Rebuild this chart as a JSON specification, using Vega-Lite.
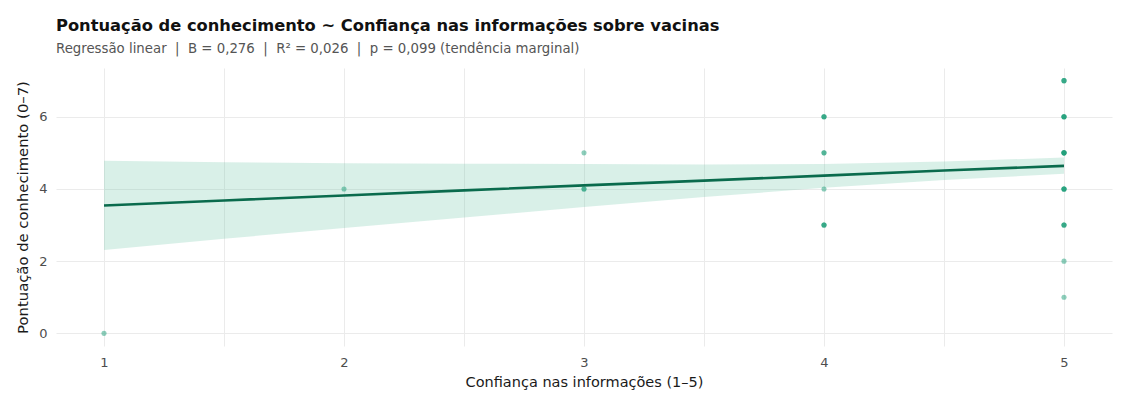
{
  "$schema": "https://vega.github.io/schema/vega-lite/v6.json",
  "autosize": "none",
  "width": 1056,
  "height": 278,
  "padding": {"left": 56, "top": 68, "right": 12, "bottom": 55},
  "background": "white",
  "config": {
    "font": "DejaVu Sans",
    "view": {"stroke": null},
    "axis": {
      "domain": false,
      "ticks": false,
      "gridColor": "#ebebeb",
      "gridWidth": 1,
      "labelColor": "#4d4d4d",
      "labelFontSize": 13,
      "titleColor": "#1a1a1a",
      "titleFontSize": 14.5,
      "titleFontWeight": "normal"
    }
  },
  "title": {
    "text": "Pontuação de conhecimento ~ Confiança nas informações sobre vacinas",
    "subtitle": "Regressão linear \u00a0|\u00a0 B = 0,276 \u00a0|\u00a0 R² = 0,026 \u00a0|\u00a0 p = 0,099 (tendência marginal)",
    "anchor": "start",
    "frame": "group",
    "fontSize": 16.3,
    "fontWeight": "bold",
    "color": "#111111",
    "subtitleFontSize": 13.3,
    "subtitleColor": "#555555",
    "subtitlePadding": 7,
    "offset": 13
  },
  "datasets": {
    "pts": [
      {"conf": 1, "score": 0},
      {"conf": 2, "score": 4},
      {"conf": 3, "score": 5},
      {"conf": 3, "score": 4}, {"conf": 3, "score": 4},
      {"conf": 4, "score": 6}, {"conf": 4, "score": 6}, {"conf": 4, "score": 6},
      {"conf": 4, "score": 5}, {"conf": 4, "score": 5},
      {"conf": 4, "score": 4},
      {"conf": 4, "score": 3}, {"conf": 4, "score": 3}, {"conf": 4, "score": 3},
      {"conf": 5, "score": 7}, {"conf": 5, "score": 7}, {"conf": 5, "score": 7},
      {"conf": 5, "score": 6}, {"conf": 5, "score": 6}, {"conf": 5, "score": 6}, {"conf": 5, "score": 6},
      {"conf": 5, "score": 5}, {"conf": 5, "score": 5}, {"conf": 5, "score": 5}, {"conf": 5, "score": 5}, {"conf": 5, "score": 5},
      {"conf": 5, "score": 4}, {"conf": 5, "score": 4}, {"conf": 5, "score": 4}, {"conf": 5, "score": 4},
      {"conf": 5, "score": 3}, {"conf": 5, "score": 3}, {"conf": 5, "score": 3},
      {"conf": 5, "score": 2},
      {"conf": 5, "score": 1}
    ],
    "fit": [
      {"conf": 1, "fit": 3.54, "lo": 2.31, "hi": 4.78},
      {"conf": 1.5, "fit": 3.68, "lo": 2.62, "hi": 4.74},
      {"conf": 2, "fit": 3.82, "lo": 2.92, "hi": 4.71},
      {"conf": 2.5, "fit": 3.96, "lo": 3.21, "hi": 4.70},
      {"conf": 3, "fit": 4.10, "lo": 3.50, "hi": 4.69},
      {"conf": 3.5, "fit": 4.23, "lo": 3.78, "hi": 4.68},
      {"conf": 4, "fit": 4.37, "lo": 4.03, "hi": 4.69},
      {"conf": 4.5, "fit": 4.51, "lo": 4.25, "hi": 4.76},
      {"conf": 5, "fit": 4.64, "lo": 4.42, "hi": 4.87}
    ]
  },
  "layer": [
    {
      "data": {"name": "fit"},
      "mark": {"type": "area", "color": "#66c2a5", "opacity": 0.25},
      "encoding": {
        "x": {
          "field": "conf", "type": "quantitative",
          "scale": {"domain": [0.8, 5.2], "nice": false, "zero": false},
          "axis": {
            "values": [1, 1.5, 2, 2.5, 3, 3.5, 4, 4.5, 5],
            "labelExpr": "datum.value % 1 == 0 ? format(datum.value, 'd') : ''",
            "title": "Confiança nas informações (1–5)",
            "labelPadding": 10,
            "titlePadding": 6
          }
        },
        "y": {
          "field": "lo", "type": "quantitative",
          "scale": {"domain": [-0.35, 7.35], "nice": false, "zero": false},
          "axis": {
            "values": [0, 1, 2, 3, 4, 5, 6, 7],
            "labelExpr": "datum.value % 2 == 0 ? datum.label : ''",
            "title": "Pontuação de conhecimento (0–7)",
            "titleFontSize": 14.8,
            "labelPadding": 9,
            "titlePadding": 8
          }
        },
        "y2": {"field": "hi"}
      }
    },
    {
      "data": {"name": "pts"},
      "mark": {"type": "circle", "color": "#1b9e77", "opacity": 0.5, "size": 26},
      "encoding": {
        "x": {"field": "conf", "type": "quantitative"},
        "y": {"field": "score", "type": "quantitative"}
      }
    },
    {
      "data": {"name": "fit"},
      "mark": {"type": "line", "color": "#0a6b4d", "strokeWidth": 2.6},
      "encoding": {
        "x": {"field": "conf", "type": "quantitative"},
        "y": {"field": "fit", "type": "quantitative"}
      }
    }
  ]
}
